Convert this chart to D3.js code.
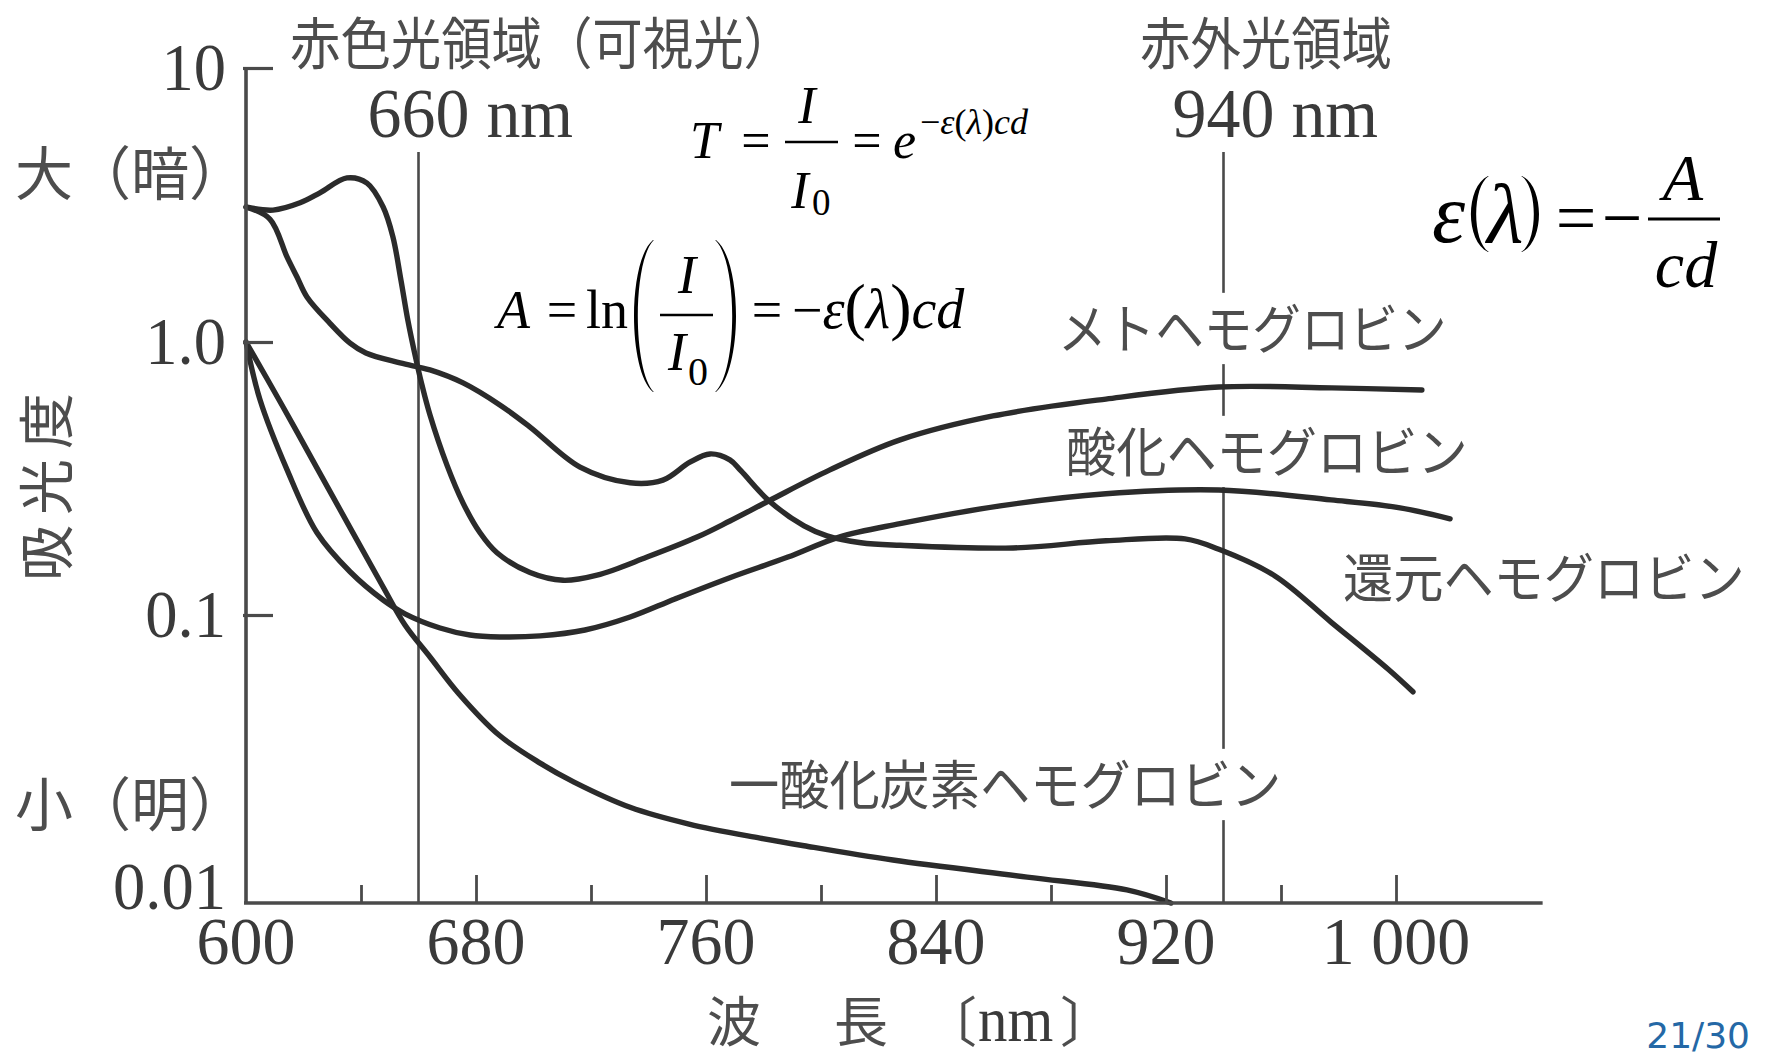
<!DOCTYPE html>
<html>
<head>
<meta charset="utf-8">
<script src="https://cdn.jsdelivr.net/npm/d3@7"></script>
<style>
  html, body { margin: 0; padding: 0; background: #fff; }
  svg { display: block; }
</style>
</head>
<body>
<svg id="chart" width="1765" height="1058"></svg>
<script>
// ---- absorbance spectra of haemoglobin derivatives: [wavelength nm, absorbance] ----
const methemoglobin = [
  [600, 3.11], [609.4, 3.03], [618.8, 3.22], [625.7, 3.50], [635.1, 3.97], [642.1, 3.80],
  [647.7, 3.11], [651.1, 2.42], [653.9, 1.68], [656.3, 1.20], [658.8, 0.896], [661.2, 0.696],
  [664, 0.540], [669.9, 0.354], [675.5, 0.257], [681.4, 0.200], [687.3, 0.169], [698.8, 0.143],
  [710.3, 0.134], [722.1, 0.140], [739.5, 0.163], [756.9, 0.193], [768.3, 0.221], [781.9, 0.262],
  [803.1, 0.340], [827.5, 0.438], [859.8, 0.536], [899.1, 0.618], [938.4, 0.684], [977.7, 0.679],
  [1009, 0.667]
];
const oxyhemoglobin = [
  [600, 1.00], [604.9, 0.613], [614.3, 0.340], [624.7, 0.200], [636.2, 0.144], [647.7, 0.1135],
  [655.3, 0.101], [667.5, 0.0901], [677.9, 0.0852], [688.3, 0.0839], [702.3, 0.0846], [717.9, 0.0887],
  [733.6, 0.0984], [749.2, 0.1145], [768.3, 0.137], [788.5, 0.163], [806.3, 0.193], [827.5, 0.216],
  [862.3, 0.251], [899.1, 0.278], [938.4, 0.287], [977.4, 0.264], [1001.4, 0.247], [1018.8, 0.225]
];
const deoxyhemoglobin = [
  [600, 3.11], [608.3, 2.81], [614.3, 2.04], [617.7, 1.73], [621.2, 1.46], [629.2, 1.17],
  [636.2, 0.99], [641.7, 0.911], [653.6, 0.838], [664, 0.790], [675.5, 0.708], [688.3, 0.588],
  [698.8, 0.488], [716.2, 0.348], [733.6, 0.305], [745, 0.312], [754.4, 0.363], [761.4, 0.389],
  [768.3, 0.370], [772.2, 0.337], [781.9, 0.262], [794.1, 0.212], [802.1, 0.195], [813.9, 0.184],
  [827.5, 0.180], [866.8, 0.176], [899.1, 0.187], [926.6, 0.190], [938.4, 0.174], [957.9, 0.139],
  [977.4, 0.0945], [997.2, 0.0649], [1005.9, 0.0541]
];
const carboxyhemoglobin = [
  [600, 1.00], [612.5, 0.588], [624.7, 0.345], [637.2, 0.200], [647.7, 0.1266], [655.3, 0.0923],
  [664, 0.0715], [674.1, 0.0532], [688, 0.0383], [702.3, 0.0306], [714.1, 0.0263], [733.6, 0.0215],
  [754.1, 0.0188], [778.8, 0.0168], [794.1, 0.0158], [825, 0.0141], [871.7, 0.0123], [906.4, 0.0111],
  [921.7, 0.0100]
];

// ---- axes ----
const xMajorTicks = [600, 680, 760, 840, 920, 1000];
const xMinorTicks = [640, 720, 800, 880, 960];
const xTickLabels = ["600", "680", "760", "840", "920", "1 000"];
const yTicks = [0.01, 0.1, 1, 10];
const yTickLabels = ["0.01", "0.1", "1.0", "10"];
const xAxisEnd = 1051;

// ---- measurement wavelengths ----
const refWavelengths = [660, 940];
const refBands = ["赤色光領域（可視光）", "赤外光領域"];

// ---- text ----
const curveNames = ["メトヘモグロビン", "酸化ヘモグロビン", "還元ヘモグロビン", "一酸化炭素ヘモグロビン"];
const yTitle = "吸光度";
const yHigh = "大（暗）";
const yLow = "小（明）";
const pageNo = "21/30";

const serif = "'Liberation Serif','Times New Roman',serif";
const cjk = "'Noto Sans CJK JP','Noto Sans CJK SC',sans-serif";
const inkAxis = "#4a4a4a";
const inkCurve = "#2b2b2b";
const inkText = "#4d4d4d";
const inkDigits = "#3a3a3a";

const svg = d3.select("#chart");
svg.append("rect").attr("width", 1765).attr("height", 1058).attr("fill", "#fff");

const x = d3.scaleLinear().domain([600, 1000]).range([246, 1396]);
const y = d3.scaleLog().domain(yTicks).range([903, 615, 342, 68]);

const gRef = svg.append("g");
const gLabels = svg.append("g");
const gCurves = svg.append("g");
const gAxes = svg.append("g");
const gMath = svg.append("g");

function squeezed(parent, px, py, sx, sy) {
  return parent.append("g").attr("transform", `translate(${px},${py}) scale(${sx},${sy || 1})`);
}

// vertical lines at the two measurement wavelengths
refWavelengths.forEach(w => {
  gRef.append("line")
    .attr("x1", x(w)).attr("x2", x(w))
    .attr("y1", 152).attr("y2", 902)
    .attr("stroke", inkAxis).attr("stroke-width", 2.6);
});

// wavelength captions: the number sits centred over its line
refWavelengths.forEach(w => {
  const g = squeezed(gLabels, x(w), 137, 0.97);
  const t = g.append("text").attr("font-family", serif).attr("font-size", 70).attr("fill", inkDigits);
  const num = t.append("tspan").text(String(w));
  t.append("tspan").text(" nm");
  const half = num.node().getComputedTextLength() / 2;
  t.attr("x", -half);
});

// band captions
[[refBands[0], 290], [refBands[1], 1140]].forEach(([s, px]) => {
  squeezed(gLabels, px, 64, 0.9).append("text")
    .attr("font-family", cjk).attr("font-size", 56).attr("fill", inkText).text(s);
});

// curve names with a white backing that interrupts the 940 nm line
function backedLabel(px, py, str, size, sx) {
  const g = squeezed(gLabels, px, py, sx);
  const bg = g.append("rect").attr("fill", "#fff");
  const t = g.append("text").attr("font-family", cjk).attr("font-size", size)
    .attr("fill", inkText).text(str);
  const w = t.node().getComputedTextLength();
  const cy = -0.38 * size;
  bg.attr("x", -4).attr("y", cy - 0.66 * size).attr("width", w + 8).attr("height", 1.32 * size);
}
backedLabel(1058, 349, curveNames[0], 54, 0.9);
backedLabel(1066, 472, curveNames[1], 54, 0.93);
backedLabel(1343, 598, curveNames[2], 54, 0.93);
backedLabel(729, 805, curveNames[3], 54, 0.93);

// y-side captions
gLabels.append("text").attr("x", 15).attr("y", 195)
  .attr("font-family", cjk).attr("font-size", 58).attr("fill", inkText).text(yHigh);
gLabels.append("text").attr("x", 15).attr("y", 826)
  .attr("font-family", cjk).attr("font-size", 58).attr("fill", inkText).text(yLow);
gLabels.append("text")
  .attr("transform", "translate(67,482) rotate(-90)")
  .attr("text-anchor", "middle")
  .attr("font-family", cjk).attr("font-size", 56).attr("letter-spacing", 10)
  .attr("fill", inkText).text(yTitle);

// x-axis title: 波　長〔nm〕
const xt = gLabels.append("g");
const titleBase = 1042;
xt.append("text").attr("x", 707).attr("y", titleBase).attr("font-family", cjk).attr("font-size", 54)
  .attr("fill", inkText).text("波");
xt.append("text").attr("x", 834).attr("y", titleBase).attr("font-family", cjk).attr("font-size", 54)
  .attr("fill", inkText).text("長");
xt.append("text").attr("x", 923).attr("y", titleBase).attr("font-family", cjk).attr("font-size", 54)
  .attr("fill", inkText).text("〔");
squeezed(xt, 978, titleBase - 1, 0.92).append("text").attr("font-family", serif).attr("font-size", 64)
  .attr("fill", inkDigits).text("nm");
xt.append("text").attr("x", 1060).attr("y", titleBase).attr("font-family", cjk).attr("font-size", 54)
  .attr("fill", inkText).text("〕");

// spectra
const line = d3.line()
  .x(d => x(d[0]))
  .y(d => y(d[1]))
  .curve(d3.curveCatmullRom.alpha(0.5));
[methemoglobin, oxyhemoglobin, deoxyhemoglobin, carboxyhemoglobin].forEach(series => {
  gCurves.append("path")
    .attr("d", line(series))
    .attr("fill", "none")
    .attr("stroke", inkCurve)
    .attr("stroke-width", 5.4)
    .attr("stroke-linecap", "round")
    .attr("stroke-linejoin", "round");
});

// axis lines
gAxes.append("line").attr("x1", x(600)).attr("x2", x(600)).attr("y1", y(10)).attr("y2", y(0.01) + 1)
  .attr("stroke", inkAxis).attr("stroke-width", 3.6);
gAxes.append("line").attr("x1", x(600) - 2).attr("x2", x(xAxisEnd)).attr("y1", y(0.01)).attr("y2", y(0.01))
  .attr("stroke", inkAxis).attr("stroke-width", 3.6);

// y axis: ticks point inward, labels on the left
const yAxis = gAxes.append("g")
  .attr("transform", `translate(${x(600)},0)`)
  .call(d3.axisLeft(y).tickValues(yTicks.filter(v => v > 0.01))
    .tickFormat(() => "").tickSizeInner(-27).tickSizeOuter(0));
yAxis.select(".domain").remove();
yAxis.selectAll(".tick line").attr("stroke", inkAxis).attr("stroke-width", 3.2).attr("x1", -3);
yTicks.forEach((v, i) => {
  const shift = v === 0.01 ? -16 : 0;
  squeezed(gAxes, 226, y(v) + shift, 0.95).append("text")
    .attr("text-anchor", "end").attr("dy", "0.32em")
    .attr("font-family", serif).attr("font-size", 68).attr("fill", inkDigits)
    .text(yTickLabels[i]);
});

// x axis: major and minor ticks point up into the plot
const xAxis = gAxes.append("g")
  .attr("transform", `translate(0,${y(0.01)})`)
  .call(d3.axisBottom(x).tickValues(xMajorTicks.filter(v => v > 600))
    .tickFormat(() => "").tickSizeInner(-28).tickSizeOuter(0));
xAxis.select(".domain").remove();
xAxis.selectAll(".tick line").attr("stroke", inkAxis).attr("stroke-width", 2.8);
const xMinor = gAxes.append("g")
  .attr("transform", `translate(0,${y(0.01)})`)
  .call(d3.axisBottom(x).tickValues(xMinorTicks).tickFormat(() => "").tickSizeInner(-18).tickSizeOuter(0));
xMinor.select(".domain").remove();
xMinor.selectAll(".tick line").attr("stroke", inkAxis).attr("stroke-width", 2.8);
xMajorTicks.forEach((v, i) => {
  squeezed(gAxes, x(v), 964, 0.97).append("text")
    .attr("text-anchor", "middle")
    .attr("font-family", serif).attr("font-size", 68).attr("fill", inkDigits)
    .text(xTickLabels[i]);
});

// ---- formulas ----
function mathText(px, py, size, parts, anchor) {
  const t = gMath.append("text").attr("x", px).attr("y", py)
    .attr("font-family", serif).attr("font-size", size).attr("fill", "#000")
    .attr("text-anchor", anchor || "start");
  parts.forEach(([s, it, sz]) => {
    const sp = t.append("tspan").attr("font-style", it ? "italic" : "normal").text(s);
    if (sz) sp.attr("font-size", sz);
  });
  return t;
}
function bar(x1, x2, yy, w) {
  gMath.append("line").attr("x1", x1).attr("x2", x2).attr("y1", yy).attr("y2", yy)
    .attr("stroke", "#000").attr("stroke-width", w || 2.6);
}
function bigParen(xTip, xBulge, yTop, yBot, thick) {
  const h = yBot - yTop;
  const dir = Math.sign(xBulge - xTip);
  const c1 = (4 * xBulge - xTip) / 3;
  const c2 = (4 * (xBulge - dir * thick) - xTip) / 3;
  const t2 = xTip - dir * 0.8;
  gMath.append("path")
    .attr("d", `M${xTip},${yTop} C${c1},${yTop + 0.14 * h} ${c1},${yBot - 0.14 * h} ${xTip},${yBot}` +
      ` L${t2},${yBot} C${c2},${yBot - 0.14 * h} ${c2},${yTop + 0.14 * h} ${t2},${yTop} Z`)
    .attr("fill", "#000");
}

// T = I / I0 = e^{-ε(λ)cd}
mathText(690, 158, 52, [["T", true]]);
mathText(756, 158, 52, [["=", false]], "middle");
bar(785, 838, 142);
mathText(807, 123, 52, [["I", true]], "middle");
mathText(800, 208, 52, [["I", true]], "middle");
mathText(812, 215, 37, [["0", false]]);
mathText(867, 158, 52, [["=", false]], "middle");
mathText(893, 158, 52, [["e", true]]);
mathText(920, 134, 36, [["\u2212", false], ["ε", true], ["(", false], ["λ", true], [")", false], ["cd", true]]);

// A = ln(I / I0) = -ε(λ)cd
mathText(497, 328, 54, [["A", true]]);
mathText(562, 328, 54, [["=", false]], "middle");
mathText(586, 328, 54, [["ln", false]]);
bigParen(653, 634, 240, 392, 3.6);
bar(660, 713, 315);
mathText(687, 293, 54, [["I", true]], "middle");
mathText(677, 370, 54, [["I", true]], "middle");
mathText(688, 385, 40, [["0", false]]);
bigParen(716, 736, 240, 392, 3.6);
mathText(767, 328, 54, [["=", false]], "middle");
mathText(792, 328, 56, [["\u2212", false, 54], ["ε", true], ["(", false, 64], ["λ", true], [")", false, 64], ["cd", true]]);

// ε(λ) = - A / cd
mathText(1432, 242, 84, [["ε", true]]);
bigParen(1488, 1471, 176, 252, 5);
mathText(1487, 242, 84, [["λ", true]]);
bigParen(1522, 1539, 176, 252, 5);
mathText(1576, 242, 72, [["=", false]], "middle");
mathText(1622, 242, 72, [["\u2212", false]], "middle");
bar(1648, 1720, 219, 3);
mathText(1683, 200, 66, [["A", true]], "middle");
mathText(1686, 287, 66, [["cd", true]], "middle");

// page number
svg.append("text").attr("x", 1750).attr("y", 1048).attr("text-anchor", "end")
  .attr("font-family", "'DejaVu Sans',sans-serif").attr("font-size", 36)
  .attr("fill", "#2468a6").text(pageNo);
</script>
</body>
</html>
